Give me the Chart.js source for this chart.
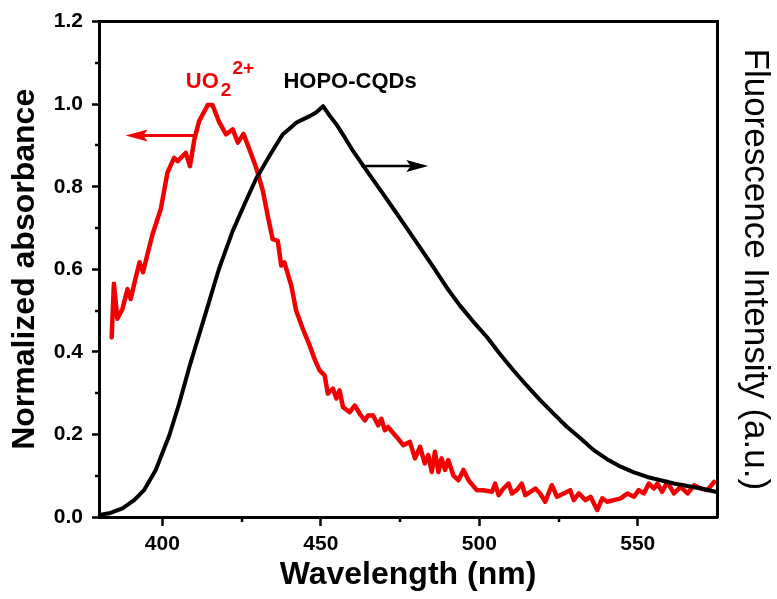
<!DOCTYPE html>
<html>
<head>
<meta charset="utf-8">
<title>UO2 absorbance vs HOPO-CQDs fluorescence</title>
<script src="https://cdn.jsdelivr.net/npm/chart.js@4.4.0/dist/chart.umd.min.js"></script>
<style>
  html, body { margin: 0; padding: 0; background: #fff; }
  #wrap { width: 777px; height: 599px; }
</style>
</head>
<body>
<div id="wrap"><canvas id="spectraChart" width="777" height="599"></canvas></div>
<script>
// UO2(2+) absorbance (normalized)
const absWavelength = [
    384.0, 384.7, 385.8, 387.4, 389.0, 390.0, 391.6, 392.8, 393.9, 395.3,
    396.9, 399.5, 401.6, 403.7, 404.8, 407.4, 408.7, 410.1, 411.6, 414.3,
    415.8, 418.0, 420.1, 422.2, 423.8, 425.6, 427.5, 429.6, 431.7, 433.5,
    434.8, 436.4, 437.5, 438.5, 440.7, 442.2, 444.3, 446.5, 448.0, 449.6,
    451.2, 452.2, 453.8, 454.9, 455.9, 457.0, 459.1, 460.7, 462.3, 463.9,
    464.9, 466.5, 468.1, 469.1, 470.2, 471.2, 473.9, 476.0, 478.1, 479.7,
    481.3, 482.8, 483.9, 485.0, 486.0, 487.1, 488.1, 489.2, 490.2, 491.8,
    493.4, 495.0, 496.6, 499.2, 501.3, 504.0, 505.0, 506.1, 507.6, 509.2,
    510.3, 511.8, 513.4, 514.5, 516.1, 517.7, 519.2, 520.8, 522.9, 524.5,
    526.6, 528.7, 529.8, 531.4, 533.5, 535.1, 537.2, 538.8, 540.3, 542.4,
    544.6, 546.7, 548.8, 550.3, 551.9, 553.5, 555.1, 556.2, 557.7, 559.3,
    561.4, 563.5, 565.7, 567.8, 569.9, 572.0, 574.1
];
const absValues = [
    0.435, 0.565, 0.480, 0.504, 0.552, 0.528, 0.580, 0.617, 0.593, 0.637,
    0.685, 0.746, 0.834, 0.870, 0.862, 0.882, 0.850, 0.915, 0.959, 0.998,
    0.998, 0.955, 0.927, 0.939, 0.907, 0.928, 0.890, 0.846, 0.790, 0.720,
    0.673, 0.669, 0.609, 0.617, 0.560, 0.500, 0.456, 0.415, 0.383, 0.355,
    0.343, 0.299, 0.311, 0.287, 0.307, 0.266, 0.254, 0.270, 0.250, 0.234,
    0.246, 0.246, 0.222, 0.238, 0.210, 0.218, 0.194, 0.174, 0.182, 0.142,
    0.170, 0.130, 0.150, 0.109, 0.158, 0.109, 0.142, 0.114, 0.138, 0.101,
    0.089, 0.114, 0.089, 0.065, 0.065, 0.061, 0.081, 0.053, 0.069, 0.081,
    0.057, 0.065, 0.081, 0.053, 0.061, 0.069, 0.057, 0.037, 0.077, 0.049,
    0.057, 0.065, 0.041, 0.057, 0.041, 0.049, 0.017, 0.045, 0.037, 0.041,
    0.045, 0.057, 0.049, 0.065, 0.057, 0.081, 0.069, 0.081, 0.061, 0.085,
    0.057, 0.073, 0.057, 0.077, 0.069, 0.065, 0.085
];

// HOPO-CQDs fluorescence (scaled to the same range)
const flWavelength = [
    380.0, 383.2, 387.4, 391.1, 394.2, 397.9, 402.2, 405.3, 408.5, 410.1,
    412.2, 414.8, 416.9, 418.0, 422.2, 426.4, 429.6, 432.8, 433.8, 437.0,
    438.0, 440.0, 442.2, 444.0, 446.5, 448.5, 450.7, 452.5, 454.9, 457.5,
    460.2, 465.0, 469.7, 473.5, 477.0, 481.0, 485.5, 489.7, 493.9, 498.0,
    502.4, 506.5, 510.8, 515.0, 519.2, 523.5, 527.7, 532.0, 536.1, 540.3,
    544.6, 548.8, 553.0, 557.2, 561.4, 565.7, 569.9, 574.6
];
const flValues = [
    0.005, 0.009, 0.021, 0.041, 0.065, 0.114, 0.198, 0.275, 0.363, 0.404,
    0.457, 0.523, 0.577, 0.604, 0.693, 0.766, 0.820, 0.862, 0.875, 0.915,
    0.927, 0.940, 0.955, 0.962, 0.971, 0.980, 0.995, 0.975, 0.951, 0.920,
    0.886, 0.833, 0.782, 0.740, 0.701, 0.656, 0.605, 0.556, 0.512, 0.474,
    0.436, 0.395, 0.355, 0.318, 0.283, 0.250, 0.218, 0.190, 0.162, 0.140,
    0.122, 0.108, 0.097, 0.089, 0.081, 0.075, 0.069, 0.061
];

const xTicks = [400, 450, 500, 550];
const yTicks = [0, 0.2, 0.4, 0.6, 0.8, 1.0, 1.2];
const xMinorTicks = [425, 475, 525];
const yMinorTicks = [0.1, 0.3, 0.5, 0.7, 0.9, 1.1];

const FONT = 'Arial, "Liberation Sans", Helvetica, sans-serif';
const RED = '#f00000';

function toPoints(xs, ys) {
    return xs.map((x, i) => ({ x: x, y: ys[i] }));
}

function arrow(ctx, x0, x1, y, color, width, headLen, headHalf) {
    // shaft from x0 to tip x1, head at x1
    const dir = Math.sign(x1 - x0);
    ctx.strokeStyle = color;
    ctx.fillStyle = color;
    ctx.lineWidth = width;
    ctx.beginPath();
    ctx.moveTo(x0, y);
    ctx.lineTo(x1 - dir * headLen * 0.8, y);
    ctx.stroke();
    ctx.beginPath();
    ctx.moveTo(x1, y);
    ctx.lineTo(x1 - dir * headLen, y - headHalf);
    ctx.lineTo(x1 - dir * headLen * 0.8, y);
    ctx.lineTo(x1 - dir * headLen, y + headHalf);
    ctx.closePath();
    ctx.fill();
}

const extras = {
    id: 'extras',
    afterDraw(chart) {
        const { ctx, scales: { x, y } } = chart;
        ctx.save();

        // minor ticks
        ctx.strokeStyle = '#000';
        ctx.lineWidth = 2.5;
        xMinorTicks.forEach(v => {
            const px = Math.round(x.getPixelForValue(v));
            ctx.beginPath();
            ctx.moveTo(px, chart.chartArea.bottom);
            ctx.lineTo(px, chart.chartArea.bottom + 5);
            ctx.stroke();
        });
        yMinorTicks.forEach(v => {
            const py = Math.round(y.getPixelForValue(v));
            ctx.beginPath();
            ctx.moveTo(chart.chartArea.left, py);
            ctx.lineTo(chart.chartArea.left - 4, py);
            ctx.stroke();
        });

        // direction arrows
        arrow(ctx, x.getPixelForValue(410.6), x.getPixelForValue(388.4), y.getPixelForValue(0.924), RED, 3, 22, 6);
        arrow(ctx, x.getPixelForValue(462.8), x.getPixelForValue(483.9), y.getPixelForValue(0.85), '#000', 2.5, 22, 6);

        // series labels
        ctx.textBaseline = 'alphabetic';
        ctx.textAlign = 'left';
        const lx = x.getPixelForValue(407.4);
        const ly = y.getPixelForValue(1.0386);
        ctx.fillStyle = RED;
        ctx.font = 'bold 22px ' + FONT;
        ctx.fillText('UO', lx, ly);
        const w1 = ctx.measureText('UO').width;
        ctx.font = 'bold 19px ' + FONT;
        ctx.fillText('2', lx + w1 + 2, ly + 8);
        const w2 = ctx.measureText('2').width;
        ctx.fillText('2+', lx + w1 + w2 + 3, ly - 14);

        ctx.fillStyle = '#000';
        ctx.font = 'bold 22px ' + FONT;
        ctx.fillText('HOPO-CQDs', x.getPixelForValue(438.2), ly);

        ctx.restore();
    }
};

const ctx = document.getElementById('spectraChart').getContext('2d');

const chart = new Chart(ctx, {
    type: 'line',
    data: {
        datasets: [{
            label: 'HOPO-CQDs',
            data: toPoints(flWavelength, flValues),
            borderColor: '#000',
            borderWidth: 4,
            yAxisID: 'y2',
            order: 0
        }, {
            label: 'UO2 2+',
            data: toPoints(absWavelength, absValues),
            borderColor: RED,
            borderWidth: 4.5,
            yAxisID: 'y',
            order: 1
        }]
    },
    options: {
        responsive: false,
        animation: false,
        parsing: false,
        layout: { padding: { top: 21, left: 0, right: 0, bottom: 0 } },
        elements: {
            point: { radius: 0 },
            line: { tension: 0, borderJoinStyle: 'round', borderCapStyle: 'round' }
        },
        plugins: {
            legend: { display: false },
            tooltip: { enabled: false }
        },
        scales: {
            x: {
                type: 'linear',
                position: 'bottom',
                min: 380,
                max: 575,
                afterBuildTicks: s => { s.ticks = xTicks.map(v => ({ value: v })); },
                afterFit: s => { s.height = 82; },
                border: { display: true, color: '#000', width: 3 },
                grid: { drawOnChartArea: false, drawTicks: true, tickLength: 9, tickWidth: 2.5, tickColor: '#000' },
                ticks: { color: '#000', padding: 6, maxRotation: 0, font: { family: FONT, size: 21, weight: 'bold' } },
                title: {
                    display: true,
                    text: 'Wavelength (nm)',
                    color: '#000',
                    padding: { top: 0, bottom: 5 },
                    font: { family: FONT, size: 32, weight: 'bold' }
                }
            },
            x2: {
                type: 'linear',
                position: 'top',
                min: 380,
                max: 575,
                afterFit: s => { s.height = 0; },
                border: { display: true, color: '#000', width: 3 },
                grid: { display: false, drawTicks: false },
                ticks: { display: false }
            },
            y: {
                type: 'linear',
                position: 'left',
                min: 0,
                max: 1.2,
                afterBuildTicks: s => { s.ticks = yTicks.map(v => ({ value: v })); },
                afterFit: s => { s.width = 99; },
                border: { display: true, color: '#000', width: 3 },
                grid: { drawOnChartArea: false, drawTicks: true, tickLength: 7, tickWidth: 2.5, tickColor: '#000' },
                ticks: {
                    color: '#000',
                    padding: 9,
                    callback: v => v.toFixed(1),
                    font: { family: FONT, size: 21, weight: 'bold' }
                },
                title: {
                    display: true,
                    text: 'Normalized absorbance',
                    color: '#000',
                    padding: { top: 6, bottom: 0 },
                    font: { family: FONT, size: 32, weight: 'bold' }
                }
            },
            y2: {
                type: 'linear',
                position: 'right',
                min: 0,
                max: 1.2,
                afterFit: s => { s.width = 60; },
                border: { display: true, color: '#000', width: 3 },
                grid: { display: false, drawTicks: false },
                ticks: { display: false },
                title: {
                    display: true,
                    text: 'Fluorescence Intensity (a.u.)',
                    color: '#000',
                    padding: { top: 1, bottom: 0 },
                    font: { family: FONT, size: 35, weight: 'normal' }
                }
            }
        }
    },
    plugins: [extras]
});
</script>
</body>
</html>
